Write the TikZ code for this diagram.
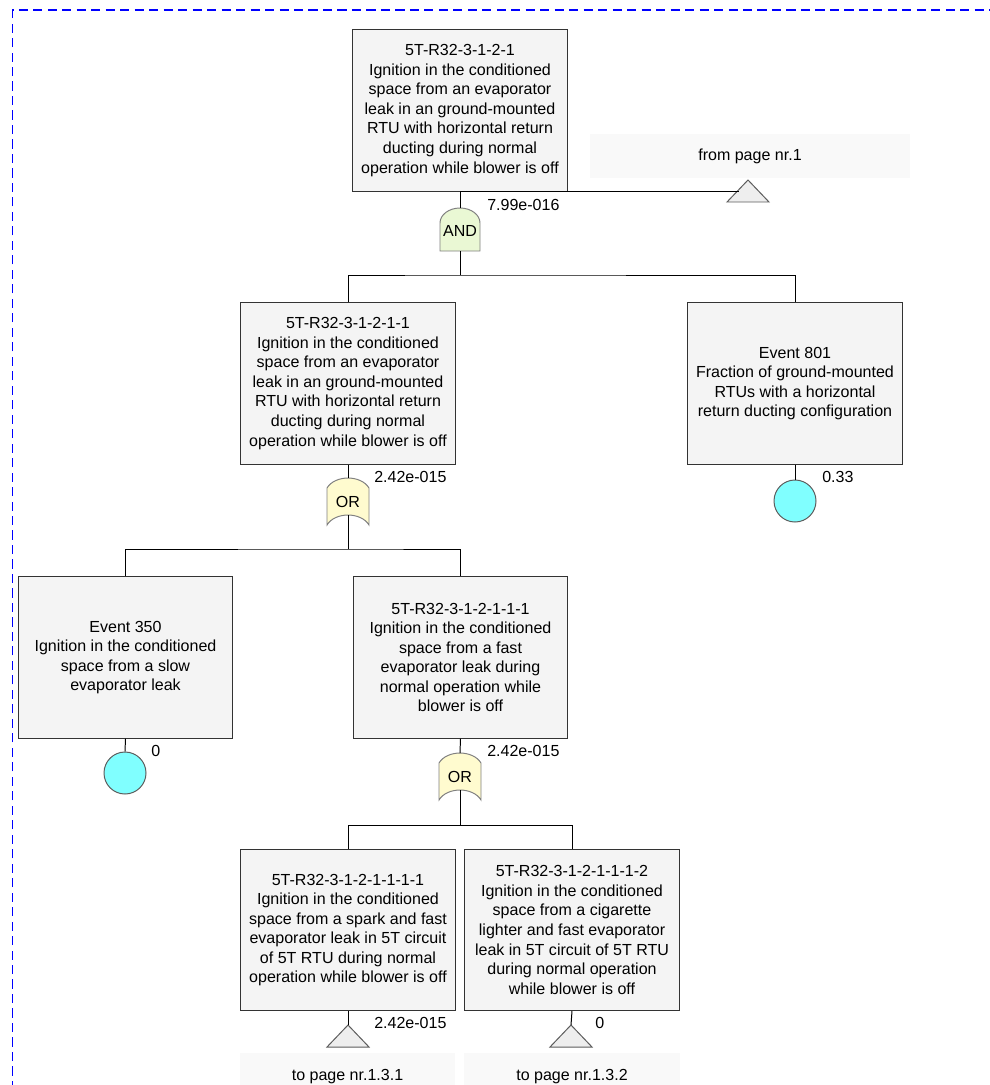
\documentclass[tikz,border=0pt]{standalone}
\usepackage{fontspec}
\setmainfont{Liberation Sans}
\usetikzlibrary{calc}
\definecolor{ftblue}{HTML}{0000FF}
\definecolor{ftedge}{HTML}{333333}
\definecolor{ftfill}{HTML}{F4F4F4}
\definecolor{ftpage}{HTML}{F9F9F9}
\definecolor{ftand}{HTML}{EAF8D4}
\definecolor{ftor}{HTML}{FFFBCF}
\definecolor{ftgate}{HTML}{808080}
\definecolor{ftcirc}{HTML}{80FFFF}
\definecolor{fttri}{HTML}{EEEEEE}
\newcommand{\ftfont}{\fontsize{11.4}{13.9}\selectfont}
\tikzset{
  ftbox/.style={draw=ftedge, fill=ftfill, line width=0.7pt, minimum width=5.35cm, minimum height=4.025cm, align=center, inner sep=2pt, font=\ftfont},
  ftpagebox/.style={fill=ftpage, align=center, inner sep=0pt, font=\ftfont},
  ftconn/.style={draw=black, line width=0.7pt},
  ftgateline/.style={draw=ftgate, line width=0.7pt},
  ftgatetxt/.style={inner sep=0pt, font=\ftfont},
  ftevent/.style={circle, draw=ftedge!80, fill=ftcirc, line width=0.7pt, minimum size=1.05cm, inner sep=0pt},
  ftprob/.style={anchor=west, inner sep=0pt, font=\ftfont},
  ftborder/.style={draw=ftblue, line width=1.1pt, dash pattern=on 6.5pt off 3.8pt},
  andgate/.pic={
    \draw[ftgateline, fill=ftand] (-20,43) -- (-20,15) .. controls (-20,6.7) and (-11,0) .. (0,0) .. controls (11,0) and (20,6.7) .. (20,15) -- (20,43) -- cycle;
    \node[ftgatetxt] at (0,23) {AND};
    \coordinate (-top) at (0,0);
    \coordinate (-bot) at (0,43);
  },
  orgate/.pic={
    \draw[ftgateline, fill=ftor] (-21,10) .. controls (-13,-3.3) and (13,-3.3) .. (21,10) -- (21,47) .. controls (13,33.7) and (-13,33.7) .. (-21,47) -- cycle;
    \node[ftgatetxt] at (0,24) {OR};
    \coordinate (-top) at (0,0);
    \coordinate (-bot) at (0,37);
  },
  xfer/.pic={
    \draw[draw=ftedge!80, fill=fttri, line width=0.7pt] (0,0) -- (21,22) -- (-21,22) -- cycle;
    \coordinate (-top) at (0,0);
    \coordinate (-left) at (-9.5,10);
  },
}

\begin{document}
\begin{tikzpicture}[x=0.025cm, y=-0.025cm]
  \useasboundingbox (0,0) rectangle (990,1085);
  % page frame
  \draw[ftborder] (12.5,1090) -- (12.5,10) -- (995,10);

  % events
  \node[ftbox] (top) at (460,110.5) {5T-R32-3-1-2-1\\Ignition in the conditioned\\space from an evaporator\\leak in an ground-mounted\\RTU with horizontal return\\ducting during normal\\operation while blower is off};
  \node[ftbox] (ign11) at (348,383.5) {5T-R32-3-1-2-1-1\\Ignition in the conditioned\\space from an evaporator\\leak in an ground-mounted\\RTU with horizontal return\\ducting during normal\\operation while blower is off};
  \node[ftbox] (ev801) at (795,383.5) {Event 801\\Fraction of ground-mounted\\RTUs with a horizontal\\return ducting configuration};
  \node[ftbox] (ev350) at (125.5,657.5) {Event 350\\Ignition in the conditioned\\space from a slow\\evaporator leak};
  \node[ftbox] (ign111) at (460.5,657.5) {5T-R32-3-1-2-1-1-1\\Ignition in the conditioned\\space from a fast\\evaporator leak during\\normal operation while\\blower is off};
  \node[ftbox] (ign1111) at (348,930) {5T-R32-3-1-2-1-1-1-1\\Ignition in the conditioned\\space from a spark and fast\\evaporator leak in 5T circuit\\of 5T RTU during normal\\operation while blower is off};
  \node[ftbox] (ign1112) at (572,930) {5T-R32-3-1-2-1-1-1-2\\Ignition in the conditioned\\space from a cigarette\\lighter and fast evaporator\\leak in 5T circuit of 5T RTU\\during normal operation\\while blower is off};

  % transfer labels
  \node[ftpagebox, minimum width=8cm, minimum height=1.1cm] (fromp) at (750,156) {from page nr.1};
  \node[ftpagebox, minimum width=5.375cm, minimum height=1.2cm] (top1) at (347.5,1077) {to page nr.1.3.1};
  \node[ftpagebox, minimum width=5.375cm, minimum height=1.2cm] (top2) at (572,1077) {to page nr.1.3.2};

  % gates and transfers
  \pic (g1) at (460,208) {andgate};
  \pic (g2) at (348,478) {orgate};
  \pic (g3) at (460,753) {orgate};
  \pic (tin) at (748,180) {xfer};
  \pic (tout1) at (348,1025) {xfer};
  \pic (tout2) at (571,1025) {xfer};

  % basic events
  \node[ftevent] (c801) at (795,501) {};
  \node[ftevent] (c350) at (125,773) {};

  % connectors
  \draw[ftconn] (top.south) -- (g1-top);
  \draw[ftconn] (top.south) -- (top.south -| tin-left);
  \draw[ftconn] (g1-bot) -- ++(0,24);
  \draw[ftconn] (ign11.north) |- ($(g1-bot)+(0,24)$) -| (ev801.north);
  \draw[ftconn] (ign11.south) -- (g2-top);
  \draw[ftconn] (ev801.south) -- (c801.north);
  \draw[ftconn] (g2-bot) -- ++(0,34);
  \draw[ftconn] (ev350.north) |- ($(g2-bot)+(0,34)$) -| (ign111.north);
  \draw[ftconn] (ev350.south) -- (c350.north);
  \draw[ftconn] (ign111.south) -- (g3-top);
  \draw[ftconn] (g3-bot) -- ++(0,35);
  \draw[ftconn] (ign1111.north) |- ($(g3-bot)+(0,35)$) -| (ign1112.north);
  \draw[ftconn] (ign1111.south) -- (tout1-top);
  \draw[ftconn] (ign1112.south) -- (tout2-top);

  % probabilities
  \node[ftprob] (p1) at (487,205) {7.99e-016};
  \node[ftprob] (p2) at (374,477) {2.42e-015};
  \node[ftprob] (p801) at (822,477) {0.33};
  \node[ftprob] (p350) at (151,751) {0};
  \node[ftprob] (p3) at (487,751) {2.42e-015};
  \node[ftprob] (pt1) at (374,1023) {2.42e-015};
  \node[ftprob] (pt2) at (595,1023) {0};
\end{tikzpicture}
\end{document}
